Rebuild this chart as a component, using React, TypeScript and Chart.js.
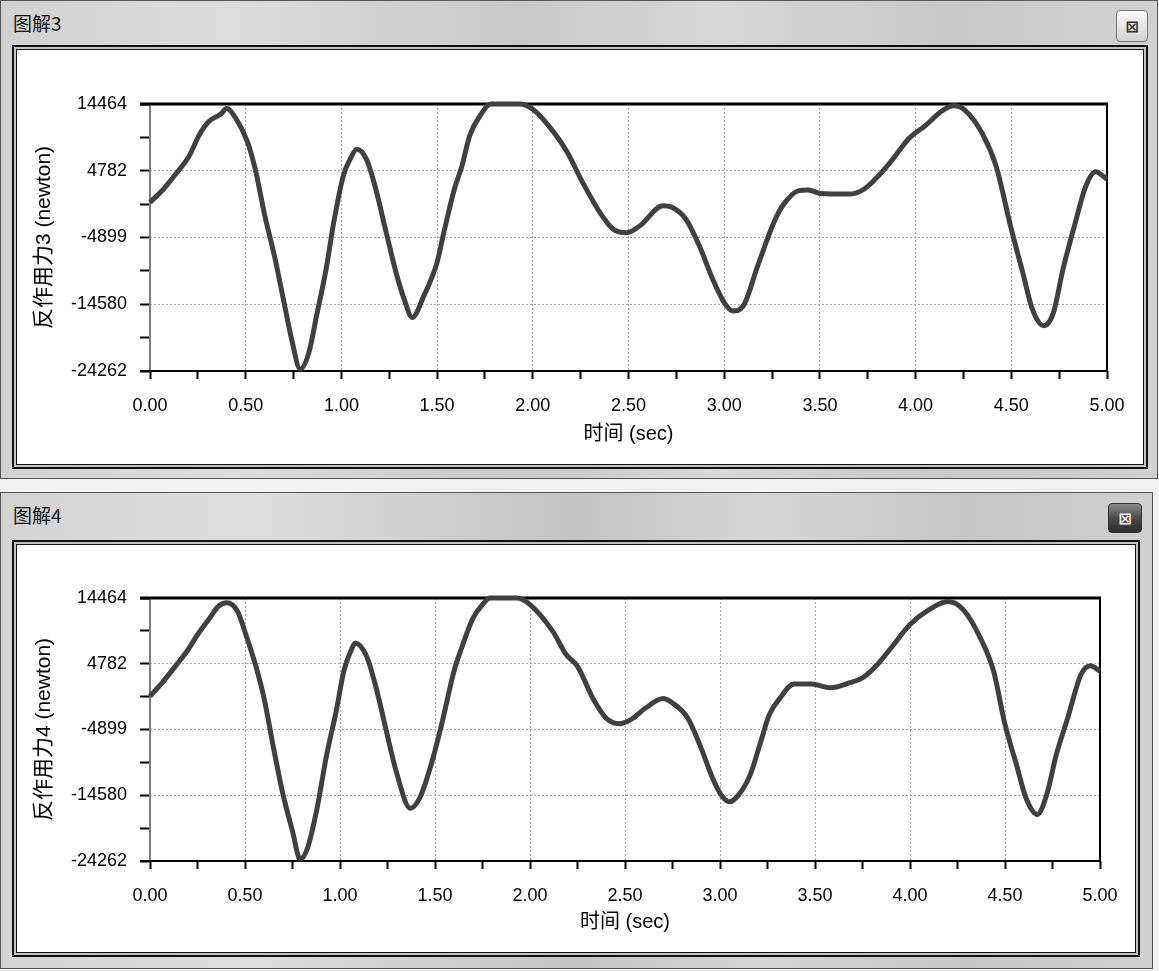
import React, { useEffect, useRef } from 'react';
import { Chart, registerables } from 'chart.js';

Chart.register(...registerables);

// ---------- data ----------
const timeTop = [0, 0.07, 0.14, 0.2, 0.26, 0.31, 0.37, 0.4, 0.45, 0.51, 0.55, 0.6, 0.65, 0.7, 0.74, 0.785, 0.83, 0.87, 0.92, 0.96, 1.01, 1.05, 1.08, 1.13, 1.18, 1.23, 1.29, 1.33, 1.37, 1.43, 1.5, 1.535, 1.59, 1.63, 1.67, 1.73, 1.78, 1.93, 2.0, 2.11, 2.18, 2.26, 2.35, 2.42, 2.49, 2.56, 2.68, 2.73, 2.8, 2.87, 2.94, 3.0, 3.045, 3.1, 3.175, 3.26, 3.305, 3.39, 3.44, 3.5, 3.65, 3.73, 3.86, 3.97, 4.05, 4.14, 4.2, 4.26, 4.35, 4.42, 4.5, 4.56, 4.61, 4.67, 4.72, 4.77, 4.83, 4.89, 4.94, 5.0];
const forceTop = [200, 2100, 4500, 6700, 10100, 12000, 13000, 13800, 12300, 8900, 5000, -1750, -7550, -14300, -19650, -24000, -21600, -16300, -9500, -2700, 4050, 6700, 7900, 6500, 2100, -3700, -10450, -14000, -16500, -13400, -8500, -4200, 2100, 5500, 9850, 13000, 14464, 14464, 13700, 10350, 7450, 3100, -1250, -3700, -4200, -3200, -300, -550, -2250, -6100, -10950, -14350, -15550, -14800, -9000, -2700, -300, 1900, 2000, 1500, 1400, 2100, 5750, 9600, 11300, 13500, 14200, 13500, 10100, 5500, -3700, -10000, -15300, -17700, -15800, -9500, -3200, 2600, 4650, 3550];

const timeBottom = [0, 0.07, 0.14, 0.2, 0.25, 0.32, 0.36, 0.405, 0.46, 0.51, 0.56, 0.6, 0.65, 0.7, 0.75, 0.79, 0.83, 0.88, 0.93, 0.98, 1.02, 1.06, 1.08, 1.14, 1.19, 1.24, 1.3, 1.37, 1.42, 1.48, 1.535, 1.6, 1.64, 1.7, 1.75, 1.79, 1.93, 2.0, 2.12, 2.19, 2.25, 2.33, 2.4, 2.47, 2.53, 2.61, 2.7, 2.75, 2.83, 2.9, 2.96, 3.01, 3.05, 3.1, 3.16, 3.21, 3.26, 3.31, 3.39, 3.48, 3.58, 3.68, 3.75, 3.82, 3.9, 4.0, 4.1, 4.2, 4.28, 4.37, 4.44, 4.5, 4.56, 4.61, 4.67, 4.72, 4.77, 4.83, 4.9, 4.95, 5.0];
const forceBottom = [0, 2200, 4650, 6850, 9050, 11750, 13250, 13750, 12500, 8600, 4150, -250, -7600, -14450, -19850, -24000, -22300, -16400, -8600, -2200, 3700, 6850, 7850, 5900, 1250, -4650, -11500, -16500, -14950, -10050, -4150, 3700, 7100, 11500, 13500, 14464, 14464, 13500, 9550, 6150, 4400, -250, -3200, -4050, -3450, -1700, -350, -1000, -3200, -7600, -12000, -14700, -15550, -14450, -11500, -7100, -2700, -500, 1800, 1800, 1250, 1950, 2700, 4400, 7100, 10550, 12750, 13950, 12750, 8600, 3700, -4150, -10050, -14950, -17400, -14450, -8600, -3200, 3200, 4500, 3700];

const yTickValues = [-24262, -14580, -4899, 4782, 14464];
const xTickValues = [0, 0.5, 1, 1.5, 2, 2.5, 3, 3.5, 4, 4.5, 5];
const xTickLabels = ['0.00', '0.50', '1.00', '1.50', '2.00', '2.50', '3.00', '3.50', '4.00', '4.50', '5.00'];
const xTitle = '时间 (sec)';
const yTitleTop = '反作用力3 (newton)';
const yTitleBottom = '反作用力4 (newton)';
const windowTitleTop = '图解3';
const windowTitleBottom = '图解4';

const FONT = "'Liberation Sans', Arial, 'Noto Sans CJK SC', sans-serif";

function withMinors(majors: number[]) {
  const out: number[] = [];
  for (let i = 0; i < majors.length; i++) {
    out.push(majors[i]);
    if (i < majors.length - 1) out.push((majors[i] + majors[i + 1]) / 2);
  }
  return out;
}

const framePlugin = {
  id: 'plotFrame',
  beforeDatasetsDraw(chart: any) {
    const { ctx, chartArea: a } = chart;
    const seg = (x1: number, y1: number, x2: number, y2: number) => {
      ctx.beginPath();
      ctx.moveTo(x1, y1);
      ctx.lineTo(x2, y2);
      ctx.stroke();
    };
    ctx.save();
    ctx.setLineDash([]);
    ctx.strokeStyle = '#7a7a7a';
    ctx.lineWidth = 2;
    seg(a.left, a.top, a.left, a.bottom);
    ctx.strokeStyle = '#000';
    ctx.lineWidth = 2;
    seg(a.right, a.top - 1, a.right, a.bottom + 1);
    seg(a.left - 10, a.bottom, a.right + 1, a.bottom);
    ctx.lineWidth = 3;
    seg(a.left - 10, a.top, a.right + 1, a.top);
    ctx.restore();
  },
};

type ChartProps = {
  times: number[];
  forces: number[];
  yTitle: string;
  left: number;
  top: number;
  width: number;
  height: number;
  padTop: number;
  padRight: number;
  yAxisWidth: number;
  xAxisHeight: number;
};

function ForceChart(p: ChartProps) {
  const ref = useRef<HTMLCanvasElement>(null);
  useEffect(() => {
    const yAll = withMinors(yTickValues);
    const xAll = withMinors(xTickValues);
    const isMajorY = (v: number) => yTickValues.some((m) => Math.abs(m - v) < 0.01);
    const isMajorX = (v: number) => xTickValues.some((m) => Math.abs(m - v) < 1e-6);
    const chart = new Chart(ref.current as HTMLCanvasElement, {
      type: 'line',
      data: {
        datasets: [
          {
            data: p.times.map((t, i) => ({ x: t, y: p.forces[i] })),
            borderColor: '#404040',
            borderWidth: 5,
            pointRadius: 0,
            fill: false,
            cubicInterpolationMode: 'monotone',
            clip: 6,
          } as any,
        ],
      },
      options: {
        animation: false,
        responsive: false,
        events: [],
        layout: { padding: { top: p.padTop, right: p.padRight, left: 0, bottom: 0 } },
        plugins: { legend: { display: false }, tooltip: { enabled: false } },
        scales: {
          x: {
            type: 'linear',
            min: 0,
            max: 5,
            afterBuildTicks: (s: any) => {
              s.ticks = xAll.map((v) => ({ value: v }));
            },
            afterFit: (s: any) => {
              s.height = p.xAxisHeight;
            },
            ticks: {
              autoSkip: false,
              maxRotation: 0,
              padding: 16,
              color: '#000',
              font: { family: FONT, size: 18 },
              callback: (v: any) => {
                const i = xTickValues.findIndex((m) => Math.abs(m - Number(v)) < 1e-6);
                return i >= 0 ? xTickLabels[i] : '';
              },
            },
            grid: {
              color: (c: any) => (c.tick && isMajorX(c.tick.value) ? '#a6a6a6' : 'rgba(0,0,0,0)'),
              lineWidth: 1,
              drawTicks: true,
              tickLength: 8,
              tickColor: '#000',
              tickWidth: 2,
              tickBorderDash: [10, 0],
            },
            border: { display: false, dash: [2, 2] },
            title: {
              display: true,
              text: xTitle,
              color: '#000',
              font: { family: FONT, size: 20 },
              padding: { top: 0, bottom: 18 },
            },
          },
          y: {
            type: 'linear',
            min: -24262,
            max: 14464,
            afterBuildTicks: (s: any) => {
              s.ticks = yAll.map((v) => ({ value: v }));
            },
            afterFit: (s: any) => {
              s.width = p.yAxisWidth;
            },
            ticks: {
              autoSkip: false,
              padding: 13,
              color: '#000',
              font: { family: FONT, size: 18 },
              callback: (v: any) => (isMajorY(Number(v)) ? String(Math.round(Number(v))) : ''),
            },
            grid: {
              color: (c: any) => (c.tick && isMajorY(c.tick.value) ? '#a6a6a6' : 'rgba(0,0,0,0)'),
              lineWidth: 1,
              drawTicks: true,
              tickLength: 10,
              tickColor: '#000',
              tickWidth: 2,
              tickBorderDash: [10, 0],
            },
            border: { display: false, dash: [2, 2] },
            title: {
              display: true,
              text: p.yTitle,
              color: '#000',
              font: { family: FONT, size: 21 },
              padding: { top: 15, bottom: 0 },
            },
          },
        },
      } as any,
      plugins: [framePlugin],
    });
    return () => chart.destroy();
  }, []);
  return (
    <canvas
      ref={ref}
      width={p.width}
      height={p.height}
      style={{ position: 'absolute', left: p.left, top: p.top, width: p.width, height: p.height }}
    />
  );
}

function Window(props: {
  top: number;
  width: number;
  height: number;
  title: string;
  dark: boolean;
  closeLeft: number;
  closeTop: number;
  closeW: number;
  closeH: number;
  inner: { left: number; top: number; width: number; height: number };
  bar: string;
}) {
  return (
    <>
      <div
        style={{
          position: 'absolute',
          left: 0,
          top: props.top,
          width: props.width,
          height: props.height,
          boxSizing: 'border-box',
          border: '1px solid #555',
          background: props.bar,
        }}
      />
      <div
        style={{
          position: 'absolute',
          left: 13,
          top: props.top + 10,
          fontFamily: "'Noto Sans CJK SC', sans-serif",
          fontSize: 19,
          lineHeight: '26px',
          color: '#111',
        }}
      >
        {props.title}
      </div>
      <div
        style={{
          position: 'absolute',
          left: props.closeLeft,
          top: props.closeTop,
          width: props.closeW,
          height: props.closeH,
          boxSizing: 'border-box',
          border: props.dark ? '1px solid #333' : '1px solid #777',
          borderRadius: 4,
          background: props.dark
            ? 'linear-gradient(180deg, #8a8a8a 0%, #4a4a4a 50%, #2e2e2e 100%)'
            : 'linear-gradient(180deg, #fafafa 0%, #e6e6e6 50%, #d2d2d2 100%)',
          display: 'flex',
          alignItems: 'center',
          justifyContent: 'center',
          color: props.dark ? '#f4f4f4' : '#333',
          fontFamily: "'DejaVu Sans', sans-serif",
          fontSize: 16,
          fontWeight: 'bold',
        }}
      >
        ⊠
      </div>
      <div
        style={{
          position: 'absolute',
          left: props.inner.left,
          top: props.inner.top,
          width: props.inner.width,
          height: props.inner.height,
          boxSizing: 'border-box',
          border: '2px solid #111',
          padding: 2,
          background: '#c4c4c4',
        }}
      >
        <div style={{ width: '100%', height: '100%', boxSizing: 'border-box', border: '1px solid #111', background: '#fff' }} />
      </div>
    </>
  );
}

export default function App() {
  return (
    <div style={{ position: 'absolute', left: 0, top: 0, width: 1159, height: 971, background: '#f2f2f2', overflow: 'hidden' }}>
      <Window
        top={0}
        width={1158}
        height={479}
        title={windowTitleTop}
        dark={false}
        closeLeft={1116}
        closeTop={10}
        closeW={32}
        closeH={32}
        inner={{ left: 12, top: 45, width: 1136, height: 424 }}
        bar="linear-gradient(90deg, #d2d2d2 0%, #dcdcdc 20%, #c9c9c9 45%, #d8d8d8 62%, #c8c8c8 82%, #d2d2d2 100%)"
      />
      <ForceChart
        times={timeTop}
        forces={forceTop}
        yTitle={yTitleTop}
        left={17}
        top={50}
        width={1126}
        height={414}
        padTop={54}
        padRight={36}
        yAxisWidth={133}
        xAxisHeight={93}
      />
      <Window
        top={492}
        width={1153}
        height={477}
        title={windowTitleBottom}
        dark={true}
        closeLeft={1108}
        closeTop={503}
        closeW={34}
        closeH={30}
        inner={{ left: 12, top: 540, width: 1128, height: 417 }}
        bar="linear-gradient(90deg, #d4d4d4 0%, #dddddd 22%, #c4c4c4 50%, #d6d6d6 66%, #c6c6c6 84%, #d0d0d0 100%)"
      />
      <ForceChart
        times={timeBottom}
        forces={forceBottom}
        yTitle={yTitleBottom}
        left={17}
        top={545}
        width={1118}
        height={407}
        padTop={53}
        padRight={35}
        yAxisWidth={133}
        xAxisHeight={91}
      />
    </div>
  );
}
